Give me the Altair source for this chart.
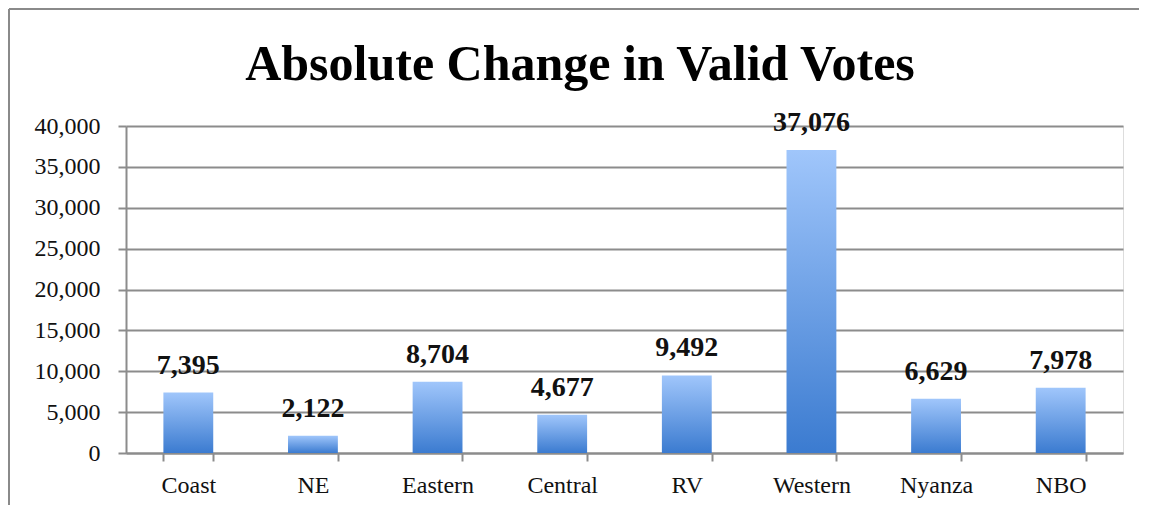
import altair as alt
import pandas as pd

regions = ["Coast", "NE", "Eastern", "Central", "RV", "Western", "Nyanza", "NBO"]
changes = [7395, 2122, 8704, 4677, 9492, 37076, 6629, 7978]
y_ticks = [0, 5000, 10000, 15000, 20000, 25000, 30000, 35000, 40000]
title_text = "Absolute Change in Valid Votes"

df = pd.DataFrame({"region": regions, "change": changes})

serif = "Liberation Serif"
grid_gray = "#8C8C8C"

gradient = alt.Gradient(
    gradient="linear",
    stops=[alt.GradientStop(color="#A0C6FB", offset=0),
           alt.GradientStop(color="#3B7BD0", offset=1)],
    x1=0, x2=0, y1=0, y2=1,
)

x_enc = alt.X("region:N", sort=regions, title=None,
              scale=alt.Scale(paddingInner=0.6, paddingOuter=0.3),
              axis=alt.Axis(labelAngle=0, labelFont=serif, labelFontSize=24,
                            labelColor="#111111", labelPadding=12,
                            tickBand="extent", tickSize=8, tickColor=grid_gray,
                            tickWidth=2, domainColor=grid_gray, domainWidth=2,
                            grid=False))
y_enc = alt.Y("change:Q", title=None,
              scale=alt.Scale(domain=[0, 40000], nice=False),
              axis=alt.Axis(values=y_ticks, format=",.0f", labelFont=serif,
                            labelFontSize=24, labelColor="#111111",
                            labelPadding=18, tickSize=8, tickColor=grid_gray,
                            tickWidth=2, domainColor=grid_gray, domainWidth=2,
                            grid=True, gridColor=grid_gray, gridWidth=2))

one = alt.Data(values=[{"a": 1}])

frame_top = alt.Chart(one).mark_rule(color="#8A8A8A", strokeWidth=2).encode(
    x=alt.value(-117), x2=alt.value(1030), y=alt.value(-117))
frame_left = alt.Chart(one).mark_rule(color="#8A8A8A", strokeWidth=2).encode(
    x=alt.value(-117), y=alt.value(-117), y2=alt.value(390))

title = alt.Chart(one).mark_text(
    font=serif, fontSize=50, fontWeight="bold", color="#000000",
    align="center", baseline="alphabetic"
).encode(x=alt.value(454), y=alt.value(-46), text=alt.value(title_text))

base = alt.Chart(df)
bars = base.mark_bar(color=gradient).encode(x=x_enc, y=y_enc)
labels = base.mark_text(font=serif, fontSize=28, fontWeight="bold",
                        color="#111111", baseline="alphabetic", dy=-19).encode(
    x=x_enc,
    y=y_enc,
    text=alt.Text("change:Q", format=","),
)

chart = alt.layer(frame_top, frame_left, title, bars, labels).properties(
    width=997, height=327,
    padding={"left": 118, "top": 118, "right": 16, "bottom": 52},
    autosize=alt.AutoSizeParams(type="none"),
).configure_view(stroke=None).configure_axis(
    labelFont=serif
).configure(background="white")

chart.save("out.html", embed_options={"renderer": "svg", "actions": False})
